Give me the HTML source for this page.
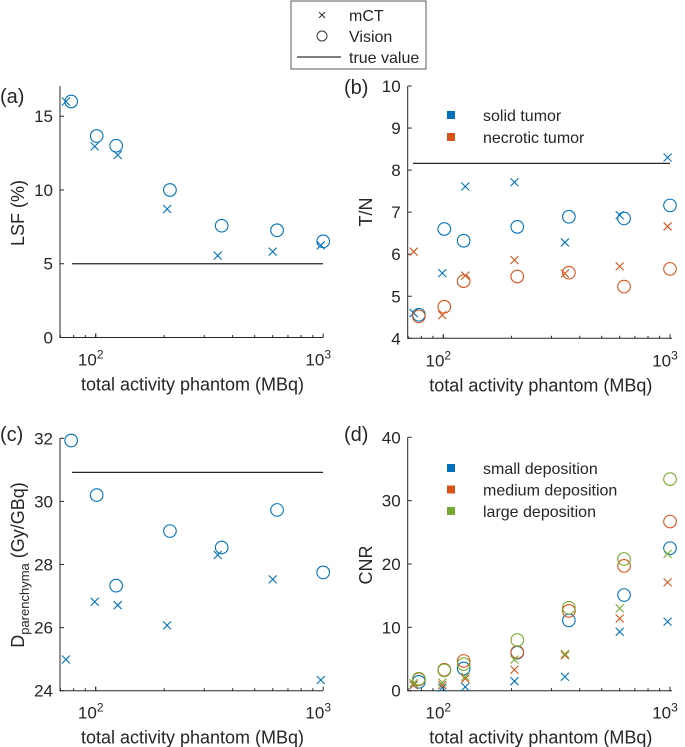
<!DOCTYPE html>
<html><head><meta charset="utf-8">
<style>
html,body{margin:0;background:#fff;overflow:hidden;width:685px;height:747px;}
svg{display:block;font-family:"Liberation Sans",Arial,sans-serif;}
</style></head>
<body>
<svg id="fig" width="685" height="747" viewBox="0 0 685 747" xmlns="http://www.w3.org/2000/svg" overflow="hidden">
  <g>
    <rect x="291" y="1" width="135" height="68" fill="#fff" stroke="#333" stroke-width="0.8"/>
    <text x="322" y="20" font-size="15" text-anchor="middle" fill="#333">×</text>
    <text x="349" y="21" font-size="16" fill="#262626">mCT</text>
    <circle cx="322" cy="36" r="5" fill="none" stroke="#333" stroke-width="1"/>
    <text x="349" y="42" font-size="16" fill="#262626">Vision</text>
    <line x1="297" y1="57" x2="341" y2="57" stroke="#333" stroke-width="1.2"/>
    <text x="349" y="63" font-size="16" fill="#262626">true value</text>
  </g>
</svg>
<script>
// shared activity values (MBq)
const actMCT = [74, 99, 125, 206, 344, 600, 976];
const actVision = [78, 101, 123, 212, 358, 627, 1000];
// panel (a) LSF %
const lsfMCT = [16.0, 12.96, 12.37, 8.71, 5.55, 5.82, 6.25];
const lsfVision = [16.0, 13.66, 13.0, 10.0, 7.58, 7.27, 6.52];
const lsfTrue = 5;
// panel (b) T/N
const tnSolidMCT = [4.60, 5.55, 7.61, 7.71, 6.28, 6.93, 8.30];
const tnSolidVision = [4.56, 6.60, 6.32, 6.65, 6.89, 6.85, 7.16];
const tnNecMCT = [6.06, 4.55, 5.49, 5.86, 5.54, 5.71, 6.66];
const tnNecVision = [4.52, 4.75, 5.36, 5.47, 5.56, 5.23, 5.65];
const tnTrue = 8.16;
// panel (c) D parenchyma
const dMCT = [24.99, 26.82, 26.71, 26.07, 28.30, 27.53, 24.34];
const dVision = [31.93, 30.20, 27.33, 29.06, 28.54, 29.73, 27.75];
const dTrue = 30.92;
// panel (d) CNR
const cnrSmallMCT = [0.9, 0.5, 0.6, 1.5, 2.2, 9.3, 10.9];
const cnrSmallVision = [1.4, 3.3, 3.5, 6.0, 11.1, 15.1, 22.5];
const cnrMedMCT = [0.9, 0.9, 1.9, 3.3, 5.6, 11.4, 17.1];
const cnrMedVision = [1.8, 3.3, 4.7, 6.1, 12.6, 19.7, 26.7];
const cnrLargeMCT = [1.2, 1.3, 2.2, 4.9, 5.8, 13.0, 21.6];
const cnrLargeVision = [1.9, 3.2, 4.2, 8.0, 13.1, 20.8, 33.4];
const yTicksA = [0, 5, 10, 15];
const yTicksB = [4, 5, 6, 7, 8, 9, 10];
const yTicksC = [24, 26, 28, 30, 32];
const yTicksD = [0, 10, 20, 30, 40];

const NS = "http://www.w3.org/2000/svg";
const svg = document.getElementById('fig');
const BLUE = "#0072BD", ORANGE = "#D95319", GREEN = "#77AC30";
function mk(tag, attrs, parent) {
  const e = document.createElementNS(NS, tag);
  for (const k in attrs) e.setAttribute(k, attrs[k]);
  (parent || svg).appendChild(e);
  return e;
}
function panel(p) {
  const g = mk('g', {});
  
  
  const x = v => p.x10 + (Math.log10(v) - 2) * p.dec;
  const y = v => p.y0 - (v - p.ymin) * (p.y0 - p.y1) / (p.ymax - p.ymin);
  p.xf = x; p.yf = y;
  const ax = mk('path', {d: `M${p.left},${p.y1} V${p.y0} H${p.right}`, fill: 'none', stroke: '#262626', 'stroke-width': 1}, g);
  
  
  p.yt.forEach(t => {
    mk('line', {x1: p.left, x2: p.left + 4, y1: y(t), y2: y(t), stroke: '#262626'}, g);
    const tx = mk('text', {x: p.left - 7, y: y(t) + 6, 'font-size': 17, 'text-anchor': 'end', fill: '#262626'}, g);
    tx.textContent = t;
    
    
  });
  for (let d = 1; d <= 10; d++) {
    [10, 100].forEach(base => {
      const v = base * d;
      const px = x(v);
      if (px < p.left - 0.5 || px > p.right + 0.5) return;
      const major = (v === 100 || v === 1000);
      mk('line', {x1: px, x2: px, y1: p.y0, y2: p.y0 - (major ? 4 : 2.5), stroke: '#262626'}, g);
    });
  }
  [[100, '2'], [1000, '3']].forEach(([v, e]) => {
    const tx = mk('text', {x: x(v) - 5, y: p.y0 + 28, 'font-size': 17, 'text-anchor': 'middle', fill: '#262626'}, g);
    
    
    tx.textContent = '10';
    const sp = mk('tspan', {'font-size': 12, dy: -7}, tx);
    sp.textContent = e;
  });
  const xl = mk('text', {x: (p.left + p.right) / 2 + 1, y: p.y0 + 53, 'font-size': 18, 'text-anchor': 'middle', fill: '#262626'}, g);
  xl.textContent = 'total activity phantom (MBq)';
  
  
  const pl = mk('text', {x: p.lx, y: p.ly, 'font-size': 20, fill: '#262626'}, g);
  pl.textContent = '(' + p.id + ')';
  
  
  const tl = mk('line', {x1: p.tx0, x2: p.tx1, y1: y(p.tv), y2: y(p.tv), stroke: '#262626', 'stroke-width': 1.2}, g);
  
  
  return g;
}
function cross(g, cx, cy, c) {
  const s = 4;
  const e = mk('path', {d: `M${cx-s},${cy-s}L${cx+s},${cy+s}M${cx-s},${cy+s}L${cx+s},${cy-s}`, stroke: c, 'stroke-width': 1.1, fill: 'none'}, g);
  
  
}
function circ(g, cx, cy, c) {
  const e = mk('circle', {cx: cx, cy: cy, r: 6.3, stroke: c, 'stroke-width': 1.1, fill: 'none'}, g);
  
  
}
function series(p, g, mct, vis, c) {
  mct.forEach((v, i) => cross(g, p.xf(actMCT[i]), p.yf(v), c));
  vis.forEach((v, i) => circ(g, p.xf(actVision[i]), p.yf(v), c));
}
function ylabel(text, x, y, sub) {
  const t = mk('text', {x: 0, y: 0, 'font-size': 18, 'text-anchor': 'middle', fill: '#262626', transform: `translate(${x},${y}) rotate(-90)`});
  
  
  t.textContent = text;
  if (sub) {
    const s1 = mk('tspan', {'font-size': 13, dy: 5}, t); s1.textContent = sub[0];
    const s2 = mk('tspan', {'font-size': 18, dy: -5}, t); s2.textContent = sub[1];
  }
}
function legendEntries(items, x, y0, dy) {
  items.forEach(([label, c], i) => {
    const r = mk('rect', {x: x - 4, y: y0 + i * dy - 4, width: 8, height: 8, fill: c});
    
    
    const t = mk('text', {x: x + 32, y: y0 + i * dy + 6, 'font-size': 16, fill: '#262626'});
    
    
    t.textContent = label;
  });
}
const pa = {id: 'a', left: 60, right: 323, x10: 95.7, dec: 227.5, y0: 337.5, y1: 86, ymin: 0, ymax: 17.05, yt: yTicksA, lx: 0, ly: 103, tv: lsfTrue, tx0: 72, tx1: 323};
const ga = panel(pa); series(pa, ga, lsfMCT, lsfVision, BLUE);
const pb = {id: 'b', left: 407.7, right: 672, x10: 443.3, dec: 226.7, y0: 338.3, y1: 86, ymin: 4, ymax: 10, yt: yTicksB, lx: 344, ly: 94, tv: tnTrue, tx0: 413, tx1: 670};
const gb = panel(pb); series(pb, gb, tnSolidMCT, tnSolidVision, BLUE); series(pb, gb, tnNecMCT, tnNecVision, ORANGE);
const pc = {id: 'c', left: 60, right: 323, x10: 95.7, dec: 227.5, y0: 690.7, y1: 438.3, ymin: 24, ymax: 32, yt: yTicksC, lx: 0, ly: 441, tv: dTrue, tx0: 72, tx1: 323};
const gc = panel(pc); series(pc, gc, dMCT, dVision, BLUE);
const pd = {id: 'd', left: 407.7, right: 672, x10: 443.3, dec: 226.7, y0: 690.7, y1: 437.3, ymin: 0, ymax: 40, yt: yTicksD, lx: 344, ly: 441, tv: -100, tx0: 0, tx1: 0};
const gd = panel(pd);
series(pd, gd, cnrSmallMCT, cnrSmallVision, BLUE);
series(pd, gd, cnrMedMCT, cnrMedVision, ORANGE);
series(pd, gd, cnrLargeMCT, cnrLargeVision, GREEN);
ylabel('LSF (%)', 24, 213);
ylabel('T/N', 372, 212);
ylabel('D', 24, 565, ['parenchyma', ' (Gy/GBq)']);
ylabel('CNR', 372, 565);
legendEntries([['solid tumor', BLUE], ['necrotic tumor', ORANGE]], 451, 115, 22);
legendEntries([['small deposition', BLUE], ['medium deposition', ORANGE], ['large deposition', GREEN]], 451, 468, 21.5);
</script>
</body></html>
